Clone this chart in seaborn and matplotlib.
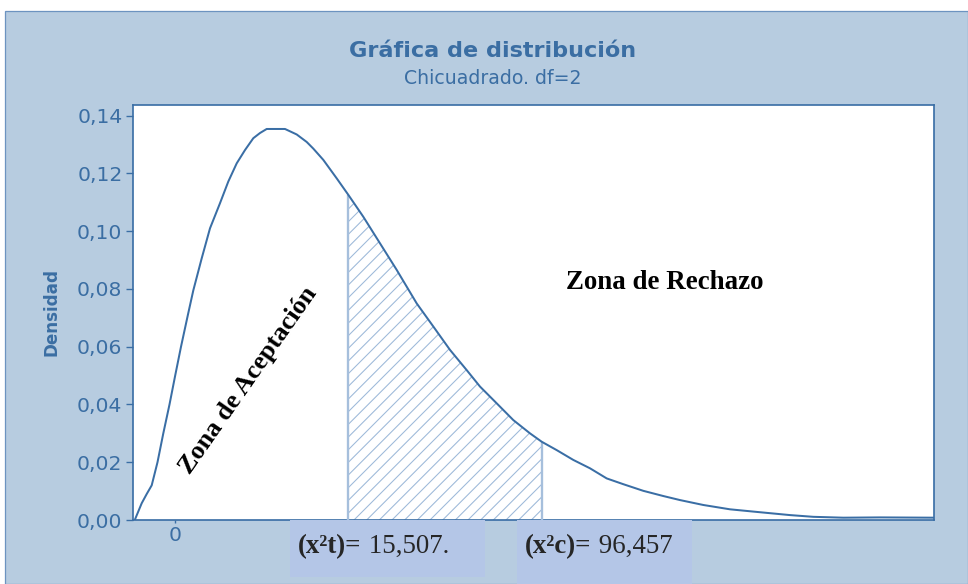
import numpy as np
import pandas as pd
import matplotlib
matplotlib.use("Agg")
import matplotlib.pyplot as plt
from matplotlib.patches import Rectangle
import seaborn as sns

# ---- data ----
curve_x = [-4.0, -3.33, -2.83, -2.33, -1.75, -1.17, -0.55, 0.0, 0.6, 1.3, 1.83,
           2.67, 3.5, 4.5, 5.33, 6.17, 7.0, 7.83, 8.5, 9.17, 11.0, 12.17, 13.17,
           13.83, 14.83, 16.17, 17.33, 18.83, 20.5, 22.17, 24.17, 25.83, 27.5,
           29.17, 30.5, 32.17, 33.83, 35.5, 36.67, 38.17, 39.83, 41.5, 43.17,
           44.83, 46.83, 48.83, 50.5, 52.83, 55.5, 58.17, 61.5, 63.83, 66.83,
           70.5, 75.83]
density = [0.0002, 0.0058, 0.0090, 0.0120, 0.0200, 0.0300, 0.0400, 0.0497, 0.0600,
           0.0712, 0.0795, 0.0906, 0.1010, 0.1097, 0.1172, 0.1235, 0.1281, 0.1322,
           0.1340, 0.1354, 0.1354, 0.1335, 0.1309, 0.1286, 0.1247, 0.1183, 0.1126,
           0.1050, 0.0958, 0.0866, 0.0750, 0.0670, 0.0589, 0.0519, 0.0462, 0.0404,
           0.0346, 0.0300, 0.0271, 0.0242, 0.0208, 0.0179, 0.0144, 0.0124, 0.0101,
           0.0083, 0.0069, 0.0052, 0.0037, 0.0028, 0.0017, 0.0011, 0.0008, 0.0009,
           0.0008]
crit_t_x = 17.33
crit_c_x = 36.67
y_ticks = [0.00, 0.02, 0.04, 0.06, 0.08, 0.10, 0.12, 0.14]
y_tick_labels = ["0,00", "0,02", "0,04", "0,06", "0,08", "0,10", "0,12", "0,14"]
x_ticks = [0]
x_tick_labels = ["0"]
title = "Gráfica de distribución"
subtitle = "Chicuadrado. df=2"
ylabel = "Densidad"
zone_accept = "Zona de Aceptación"
zone_reject = "Zona de Rechazo"
box1_bold, box1_val = "(x²t)=", " 15,507."
box2_bold, box2_val = "(x²c)=", " 96,457"

df = pd.DataFrame({"x": curve_x, "densidad": density})

# ---- figure ----
DPI = 76
W, H = 968, 584
sns.set_theme(style="white")
plt.rcParams["font.family"] = ["DejaVu Sans"]
plt.rcParams["hatch.linewidth"] = 1.0

fig = plt.figure(figsize=(W / DPI, H / DPI), dpi=DPI, facecolor="white")

BG = "#B7CCE0"
BLUE = "#3A6EA5"
TXT = "#3B6EA3"
HATCH = "#9DB9D9"
BOX = "#B4C6E7"

fig.patches.append(Rectangle((5 / W, 0), (W - 5) / W, (H - 11) / H,
                             transform=fig.transFigure, facecolor=BG,
                             edgecolor="#6C93C0", lw=1.2, zorder=-5))

ax = fig.add_axes([133 / W, (H - 520) / H, (934 - 133) / W, (520 - 105) / H])
ax.set_facecolor("white")

sns.lineplot(data=df, x="x", y="densidad", ax=ax, color=BLUE, lw=1.9,
             estimator=None, sort=True, zorder=4)

xa = np.array(curve_x)
ya = np.array(density)
m = (xa >= crit_t_x) & (xa <= crit_c_x)
ax.fill_between(xa[m], 0, ya[m], facecolor="white", edgecolor=HATCH,
                hatch="//", linewidth=0, zorder=2)
yt = ya[np.argmin(np.abs(xa - crit_t_x))]
yc = ya[np.argmin(np.abs(xa - crit_c_x))]
ax.vlines([crit_t_x, crit_c_x], 0, [yt, yc], colors="#A6BFDC", lw=2.2, zorder=3)

ax.set_xlim(-4.2, 75.9)
ax.set_ylim(0, 0.1437)
ax.set_yticks(y_ticks)
ax.set_yticklabels(y_tick_labels)
ax.set_xticks(x_ticks)
ax.set_xticklabels(x_tick_labels)
ax.set_xlabel("")
ax.set_ylabel("")
ax.tick_params(axis="y", colors=BLUE, labelcolor=TXT, labelsize=19.3,
               length=7, width=1.3, pad=3, left=True)
ax.tick_params(axis="x", colors=BLUE, labelcolor=TXT, labelsize=19.3,
               length=3, width=1.3, pad=3, bottom=True)
for s in ax.spines.values():
    s.set_color(BLUE)
    s.set_linewidth(1.6)
    s.set_visible(True)

# zone labels
ax.text(7.3, 0.0485, zone_accept, rotation=55, ha="center", va="center",
        family="Liberation Serif", weight="bold", fontsize=25, color="black",
        zorder=6, rotation_mode="anchor")
ax.text(49.0, 0.0821, zone_reject, ha="center", va="center",
        family="Liberation Serif", weight="bold", fontsize=25.5, color="black",
        zorder=6)

# titles
fig.text(493 / W, 1 - 51 / H, title, ha="center", va="center",
         weight="bold", fontsize=21.2, color=TXT, family="DejaVu Sans")
fig.text(493 / W, 1 - 78 / H, subtitle, ha="center", va="center",
         fontsize=17.9, color=TXT, family="DejaVu Sans")
fig.text(51 / W, 1 - 312 / H, ylabel, ha="center", va="center", rotation=90,
         weight="bold", fontsize=15.9, color=TXT, family="DejaVu Sans")

# boxes over the x axis
fig.patches.append(Rectangle((290 / W, (H - 577) / H), 195 / W, 57 / H,
                             transform=fig.transFigure, facecolor=BOX,
                             edgecolor="none", zorder=5))
fig.patches.append(Rectangle((517 / W, 0), 175 / W, 64 / H,
                             transform=fig.transFigure, facecolor=BOX,
                             edgecolor="none", zorder=5))

t1 = fig.text(298 / W, 1 - 553 / H, box1_bold, ha="left", va="baseline",
              family="Liberation Serif", weight="bold", fontsize=25.5, zorder=7)
t2 = fig.text(525 / W, 1 - 553 / H, box2_bold, ha="left", va="baseline",
              family="Liberation Serif", weight="bold", fontsize=25.5, zorder=7)
fig.canvas.draw()
r = fig.canvas.get_renderer()
for t, val in ((t1, box1_val), (t2, box2_val)):
    bb = t.get_window_extent(renderer=r)
    fig.text(bb.x1 / W, 1 - 553 / H, val, ha="left", va="baseline",
             family="Liberation Serif", fontsize=25.5, zorder=7)

fig.savefig("out.png", dpi=DPI, facecolor="white")
